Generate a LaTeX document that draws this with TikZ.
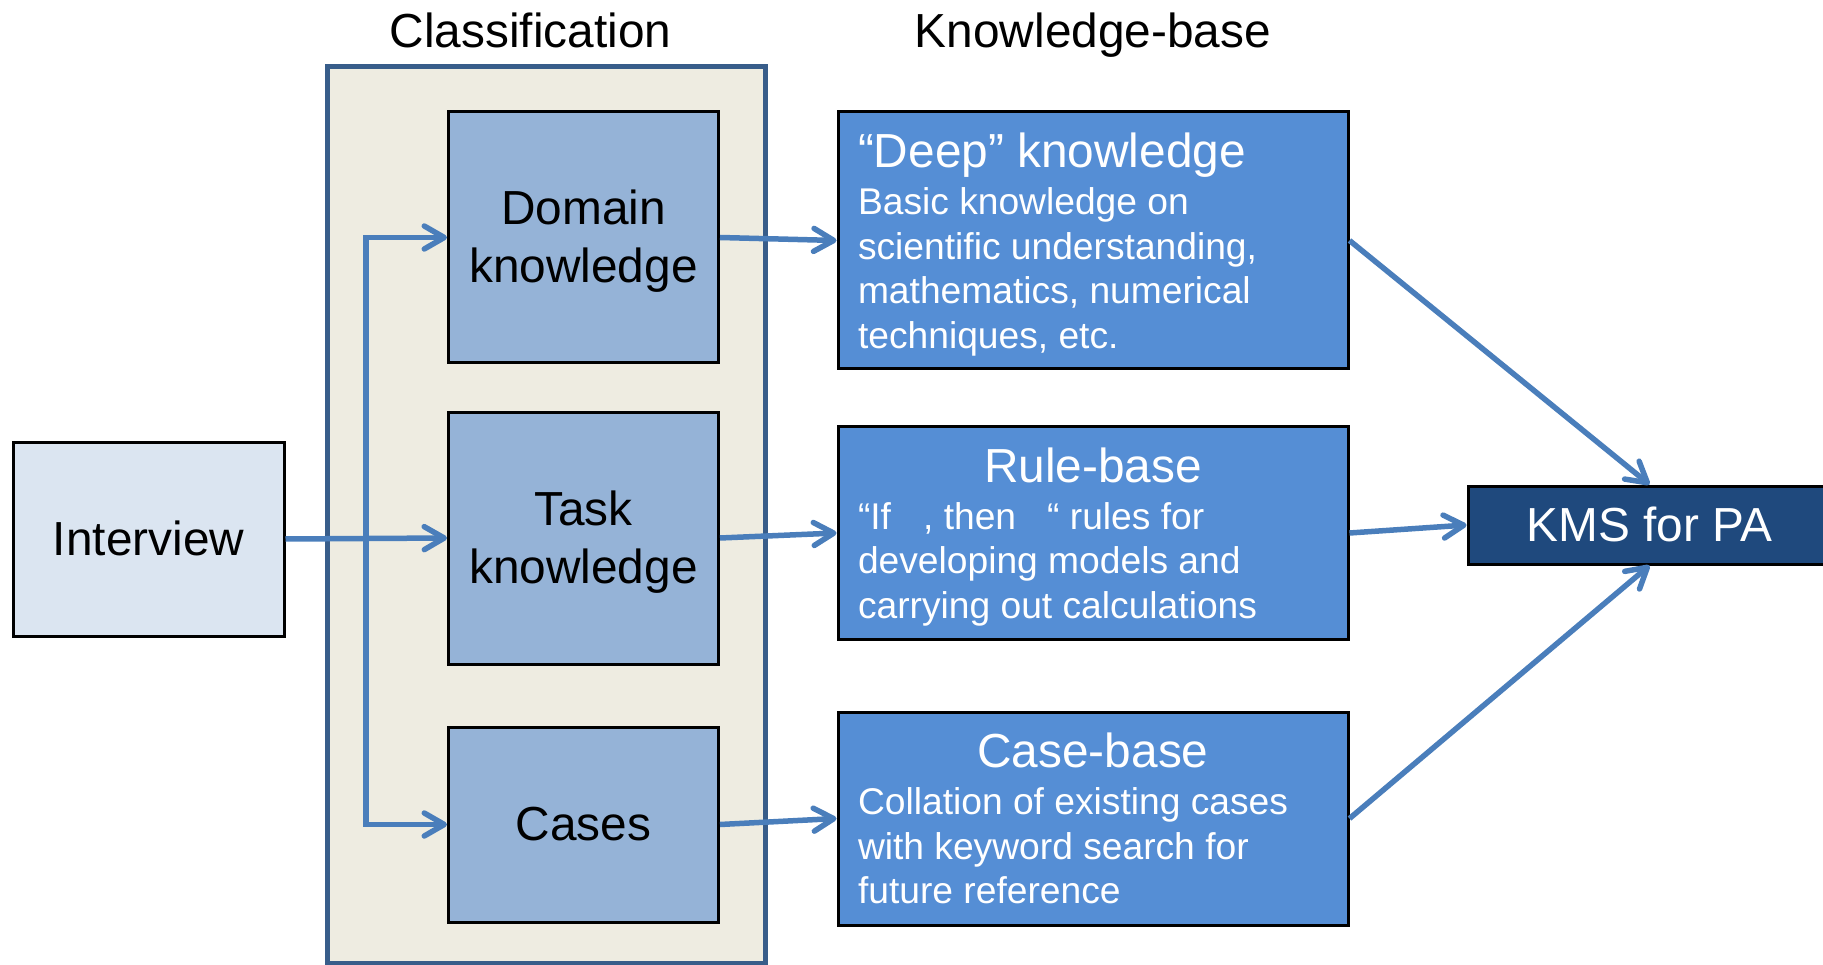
\documentclass[tikz,border=0pt]{standalone}
\usepackage{fontspec}
\setmainfont{Liberation Sans}
\usetikzlibrary{arrows.meta}
\definecolor{contfill}{HTML}{EEECE1}
\definecolor{contdraw}{HTML}{385D8A}
\definecolor{clsfill}{HTML}{95B3D7}
\definecolor{intfill}{HTML}{DBE5F1}
\definecolor{kbfill}{HTML}{558ED5}
\definecolor{kmsfill}{HTML}{1F497D}
\definecolor{arrcol}{HTML}{4A7EBB}
\newcommand{\myBig}{\fontsize{47.8}{58}\selectfont}
\newcommand{\mySmall}{\fontsize{37.2}{44.5}\selectfont}
\newcommand{\tS}{\vrule height .89em depth 0pt width 0pt}
\newcommand{\bS}{\vrule height 0pt depth .21em width 0pt}
\newcommand{\normsp}{\spaceskip=0pt\relax\xspaceskip=0pt\relax}
\begin{document}
\begin{tikzpicture}[x=1pt,y=-1pt,
  container/.style={draw=contdraw, fill=contfill, line width=5pt, minimum width=438pt, minimum height=896.5pt, inner sep=0pt},
  clsbox/.style={draw=black, fill=clsfill, line width=3pt, minimum width=270pt, align=center, font=\myBig, inner sep=0pt},
  intbox/.style={draw=black, fill=intfill, line width=3pt, minimum width=271pt, minimum height=194pt, font=\myBig, inner sep=0pt},
  kbbox/.style={draw=black, fill=kbfill, line width=3pt, text=white, inner xsep=20pt, inner ysep=0pt, text width=470pt, minimum width=510pt},
  kmsbox/.style={draw=black, fill=kmsfill, line width=3pt, text=white, minimum width=363pt, minimum height=78pt, font=\myBig, inner sep=0pt},
  title/.style={font=\myBig, anchor=base, inner sep=0pt},
  arr/.style={draw=arrcol, line width=5.5pt, -{Straight Barb[length=20pt,width=23pt,round]}},
  arrboth/.style={draw=arrcol, line width=5.5pt, {Straight Barb[length=20pt,width=23pt,round]}-{Straight Barb[length=20pt,width=23pt,round]}}
]
\useasboundingbox (0,0) rectangle (1823,965);

% titles
\node[title] (tcls) at (530.5,48) {Classification};
\node[title] (tkb) at (1093,48) {Knowledge-base};

% classification container
\node[container] (classif) at (546,514.75) {};

% classification boxes
\node[clsbox, minimum height=251pt] (domain) at (583.5,237.5) {\tS Domain\\knowledge\bS};
\node[clsbox, minimum height=252pt] (task) at (583.5,538) {\tS Task\\knowledge\bS};
\node[clsbox, minimum height=195pt] (cases) at (583.5,824.5) {\tS Cases\bS};

% interview
\node[intbox] (interview) at (148.5,539) {\tS Interview\bS};

% knowledge-base boxes
\node[kbbox, minimum height=257pt] (deep) at (1093,240.5)
  {\normsp\raggedright{\myBig\tS “Deep” knowledge\par}\vspace{2.5pt}{\mySmall Basic knowledge on\\scientific understanding,\\mathematics, numerical\\techniques, etc.\bS\par}};
\node[kbbox, minimum height=213pt] (rule) at (1093,533)
  {\normsp{\myBig\centering\tS Rule-base\par}\vspace{2.5pt}{\mySmall\raggedright “If\hspace{32pt}, then\hspace{31pt}“ rules for\\developing models and\\carrying out calculations\bS\par}};
\node[kbbox, minimum height=213pt] (caseb) at (1093,818.5)
  {\normsp{\myBig\centering\tS Case-base\par}\vspace{2.5pt}{\mySmall\raggedright Collation of existing cases\\with keyword search for\\future reference\bS\par}};

% KMS
\node[kmsbox] (kms) at (1649.5,525) {\tS KMS for PA\bS};

% connectors
\coordinate (spine) at (366,530);
\draw[arr] (interview.east) -- (task.west);
\draw[arrboth] (domain.west) -| (spine) |- (cases.west);
\draw[arr] (domain.east) -- (deep.west);
\draw[arr] (task.east) -- (rule.west);
\draw[arr] (cases.east) -- (caseb.west);
\draw[arr] (deep.east) -- (kms.north);
\draw[arr] (rule.east) -- (kms.west);
\draw[arr] (caseb.east) -- (kms.south);
\end{tikzpicture}
\end{document}
